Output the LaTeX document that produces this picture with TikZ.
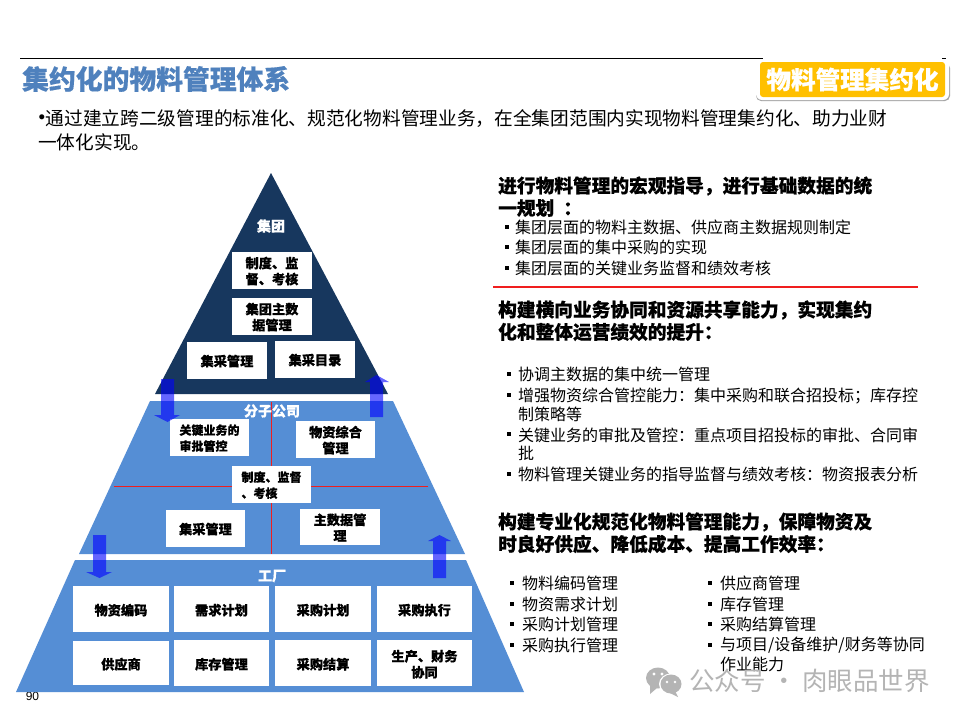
\documentclass[tikz,border=0pt]{standalone}
\usepackage{fontspec}
\setmainfont{Noto Sans CJK SC}[BoldFeatures={FakeBold=0.5}]
\newfontfamily\arialfont{Liberation Sans}
\definecolor{navy}{HTML}{17375E}
\definecolor{midblue}{HTML}{558ED5}
\definecolor{titleblue}{HTML}{4F81BD}
\definecolor{badge}{HTML}{FFC000}
\definecolor{wm}{HTML}{B4B4B4}
\definecolor{rl}{RGB}{240,30,30}
\newcommand{\fs}[2]{\fontsize{#1}{#2}\selectfont}
\tikzset{
  box/.style={inner sep=0pt,align=center,font=\fs{13.2}{16}\bfseries,text=black},
  boxl/.style={box,align=left,font=\fs{12}{16}\bfseries},
  lvl/.style={text=white,font=\fs{14}{16}\bfseries,inner sep=0pt},
  head/.style={anchor=west,inner sep=0pt,font=\fs{18.7}{22}\bfseries},
  body/.style={anchor=west,inner sep=0pt,font=\fs{16}{18}},
  bul/.style={fill=black,minimum size=4pt,inner sep=0pt},
  flow/.style={fill=blue,fill opacity=.6,draw=none},
  redline/.style={draw=rl,line width=1.3pt}
}
\def\boxdy{0.6}
\newcommand{\rbox}[7][box]{\fill[white] (#3,#5) rectangle (#4,#6);\node[#1] (#2) at ({(#3+#4)/2},{(#5+#6)/2+\boxdy}) {#7};}
\begin{document}
\begin{tikzpicture}[x=1pt,y=-1pt]
\useasboundingbox (0,0) rectangle (960,720);
\fill[white] (0,0) rectangle (960,720);
% header
\coordinate (ruleA) at (20,58); \coordinate (ruleB) at (763,58);
\coordinate (ruleC) at (942,58); \coordinate (ruleD) at (946,58);
\draw[black,line width=.9pt] (ruleA) -- (ruleB) (ruleC) -- (ruleD);
\node[anchor=west,inner sep=0pt,text=titleblue,font=\fs{26.8}{30}\bfseries] (title) at (22,79) {集约化的物料管理体系};
\fill[black!35,rounded corners=5pt] (756,63) rectangle (950,101);
\fill[white,rounded corners=6pt] (756,59) rectangle (949,100);
\node[fill=badge,rounded corners=3pt,minimum width=185pt,minimum height=35pt,inner sep=0pt,text=white,font=\fs{24.6}{26}\bfseries] (badge) at (852.5,79.5) {物料管理集约化};
% intro
\node[anchor=west,inner sep=0pt,font=\arialfont\fs{18.7}{20}] (bl) at (38.5,119) {•};
\node[anchor=west,inner sep=0pt,font=\fs{18.7}{20}] (in1) at (45.5,119) {通过建立跨二级管理的标准化、规范化物料管理业务，在全集团范围内实现物料管理集约化、助力业财};
\node[anchor=west,inner sep=0pt,font=\fs{18.7}{20}] (in2) at (38,142) {一体化实现。};
% page number
\node[inner sep=0pt,font=\arialfont\fs{12}{12}] (pg) at (32.5,696.5) {90};
% pyramid
\fill[navy] (271,173) -- (388,394) -- (155,394) -- cycle;
\fill[midblue] (150,401) -- (393,401) -- (465,554) -- (79,554) -- cycle;
\fill[midblue] (75,560) -- (466,560) -- (524,692) -- (16,692) -- cycle;
\coordinate (vT) at (271,402); \coordinate (vB) at (271,554);
\coordinate (hL) at (114,486); \coordinate (hR) at (428,486);
\draw[redline,line width=.8pt] (vT) -- (vB) (hL) -- (hR);
% group
\node[lvl] (l1) at (271,226) {集团};
\rbox{g1}{232}{312}{252}{289}{制度、监\\督、考核}
\rbox{g2}{232}{312}{298}{335}{集团主数\\据管理}
\rbox{g3}{187}{267}{342}{379}{集采管理}
\rbox{g4}{275}{355}{341}{378}{集采目录}
% subsidiary
\node[lvl] (l2) at (272,411) {分子公司};
\rbox[boxl]{s1}{170}{249}{419}{456}{关键业务的\\审批管控}
\rbox{s2}{296}{375}{421}{458}{物资综合\\管理}
\rbox[boxl]{s3}{232}{311}{466}{503}{制度、监督\\、考核}
\rbox{s4}{166}{245}{510}{547}{集采管理}
\rbox{s5}{300}{380}{509}{545}{主数据管\\理}
% factory
\def\boxdy{1.2}
\node[lvl] (l3) at (272,576) {工厂};
\rbox{f1}{73}{169}{586}{632}{物资编码}
\rbox{f2}{174}{269}{586}{632}{需求计划}
\rbox{f3}{275}{371}{586}{632}{采购计划}
\rbox{f4}{377}{472}{586}{632}{采购执行}
\rbox{f5}{73}{169}{641}{685}{供应商}
\rbox{f6}{174}{269}{640}{686}{库存管理}
\rbox{f7}{275}{371}{640}{686}{采购结算}
\rbox{f8}{377}{472}{640}{686}{生产、财务\\协同}
% block arrows
\fill[flow] (161,379) -- (174,379) -- (174,415) -- (180,415) -- (167.5,422) -- (154,415) -- (161,415) -- cycle;
\fill[flow] (370,417) -- (383,417) -- (383,382) -- (389,382) -- (376.5,375) -- (365,382) -- (370,382) -- cycle;
\fill[flow] (93,535) -- (106,535) -- (106,572) -- (112,572) -- (99.5,578) -- (86,572) -- (93,572) -- cycle;
\fill[flow] (433,578) -- (446,578) -- (446,541) -- (451,541) -- (439.5,535) -- (428,541) -- (433,541) -- cycle;
% right 1
\node[head] (h1a) at (498,186) {进行物料管理的宏观指导，进行基础数据的统};
\node[head] (h1b) at (498,208) {一规划\hspace{9pt}：};
\node[bul] (b1) at (507,227) {}; \node[body] (t1) at (515,227) {集团层面的物料主数据、供应商主数据规则制定};
\node[bul] (b2) at (507,247) {}; \node[body] (t2) at (515,247) {集团层面的集中采购的实现};
\node[bul] (b3) at (507,268) {}; \node[body] (t3) at (515,268) {集团层面的关键业务监督和绩效考核};
\coordinate (rA) at (493,287); \coordinate (rB) at (918,287);
\draw[redline] (rA) -- (rB);
% right 2
\node[head] (h2a) at (498,310) {构建横向业务协同和资源共享能力，实现集约};
\node[head] (h2b) at (498,332) {化和整体运营绩效的提升：};
\node[bul] (b4) at (509,374) {}; \node[body] (t4) at (518,374) {协调主数据的集中统一管理};
\node[bul] (b5) at (509,395) {}; \node[body] (t5) at (518,396) {增强物资综合管控能力：集中采购和联合招投标；库存控};
\node[body] (t5b) at (518,414) {制策略等};
\node[bul] (b6) at (509,434) {}; \node[body] (t6) at (518,435) {关键业务的审批及管控：重点项目招投标的审批、合同审};
\node[body] (t6b) at (518,453) {批};
\node[bul] (b7) at (509,474) {}; \node[body] (t7) at (518,474) {物料管理关键业务的指导监督与绩效考核：物资报表分析};
% right 3
\node[head] (h3a) at (498,522) {构建专业化规范化物料管理能力，保障物资及};
\node[head] (h3b) at (498,544) {时良好供应、降低成本、提高工作效率：};
\node[bul] (c1) at (512,583) {}; \node[body] (u1) at (522,583) {物料编码管理};
\node[bul] (c2) at (512,604) {}; \node[body] (u2) at (522,604) {物资需求计划};
\node[bul] (c3) at (512,624) {}; \node[body] (u3) at (522,624) {采购计划管理};
\node[bul] (c4) at (512,645) {}; \node[body] (u4) at (522,645) {采购执行管理};
\node[bul] (d1) at (710,583) {}; \node[body] (v1) at (720,583) {供应商管理};
\node[bul] (d2) at (710,604) {}; \node[body] (v2) at (720,604) {库存管理};
\node[bul] (d3) at (710,624) {}; \node[body] (v3) at (720,624) {采购结算管理};
\node[bul] (d4) at (710,645) {}; \node[body] (v4) at (720,645) {与项目/设备维护/财务等协同};
\node[body] (v4b) at (720,664) {作业能力};
% watermark
\fill[wm] (658,678) circle[x radius=12,y radius=10.5];
\fill[wm] (650,685) -- (650,694) -- (657,688) -- cycle;
\fill[white] (671,684) circle[x radius=12,y radius=10.5];
\fill[wm] (671,684) circle[x radius=10.5,y radius=9.5];
\fill[wm] (675,691) -- (678,697) -- (668,692) -- cycle;
\fill[white] (654,674) circle[radius=1.6] (662,674) circle[radius=1.6] (667,682) circle[radius=1.4] (675,682) circle[radius=1.4];
\node[anchor=west,inner sep=0pt,text=wm,font=\fs{25.5}{28}] (wmt) at (689,681) {公众号\hspace{5.5pt}·\hspace{5.5pt}肉眼品世界};
\end{tikzpicture}
\end{document}
